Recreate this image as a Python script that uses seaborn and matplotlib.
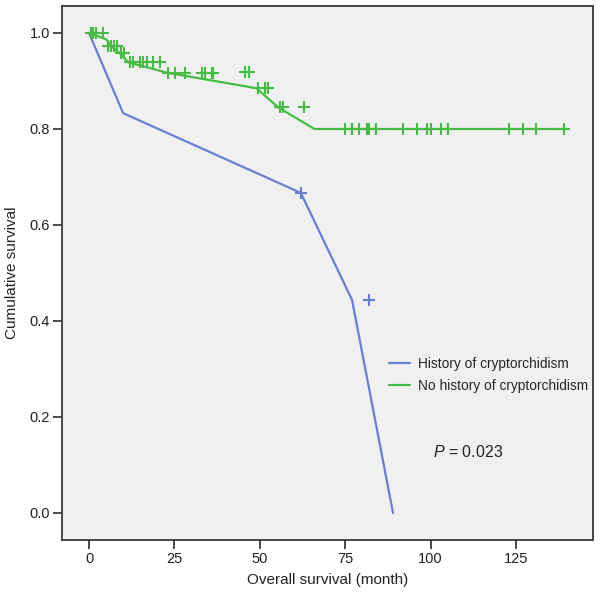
import matplotlib
matplotlib.use("Agg")
import matplotlib.pyplot as plt
import seaborn as sns
import pandas as pd
from matplotlib.lines import Line2D

# ---- data ----
blue_label = "History of cryptorchidism"
green_label = "No history of cryptorchidism"

blue_time = [0, 10, 62, 77, 89]
blue_surv = [1.0, 0.833, 0.667, 0.444, 0.0]
blue_cens_time = [62, 82]
blue_cens_surv = [0.667, 0.444]

green_time = [0, 5, 6.5, 9, 11.5, 23, 49, 55.4, 66, 139.5]
green_surv = [1.0, 0.987, 0.973, 0.958, 0.939, 0.917, 0.885, 0.845, 0.80, 0.80]
green_cens_time = [0.5, 1.3, 2.0, 4.0,
                   5.5, 6.5, 7.3, 8.3,
                   9.5, 10.1,
                   12, 13, 14.9, 15.9, 16.9, 18.8, 20.8,
                   23.2, 25.2, 28.1, 33, 34, 35.9, 36.4,
                   45.8, 46.8,
                   49.5, 51.5, 52.4,
                   56, 56.8, 63,
                   75, 77, 79, 81.3, 82, 84, 92, 96, 99, 100, 103, 105.2, 123, 127, 131, 139]
green_cens_surv = [1.0] * 4 + [0.973] * 4 + [0.958] * 2 + [0.939] * 7 + [0.917] * 7 + \
                  [0.918] * 2 + [0.885] * 3 + [0.845] * 3 + [0.80] * 16

x_ticks = [0, 25, 50, 75, 100, 125]
y_ticks = [0.0, 0.2, 0.4, 0.6, 0.8, 1.0]

# ---- style ----
sns.set_style("white")
plt.rcParams["font.family"] = ["Liberation Sans", "DejaVu Sans"]
plt.rcParams["mathtext.fontset"] = "custom"
plt.rcParams["mathtext.it"] = "Liberation Sans:italic"
plt.rcParams["mathtext.rm"] = "Liberation Sans"

BLUE = "#6a7ed2"
GREEN = "#46bb46"
FRAME = "#3a3a3a"

fig = plt.figure(figsize=(6.0, 6.01), dpi=100)
W, H = 600, 601
ax = fig.add_axes([62 / W, 1 - 540 / H, (593 - 62) / W, (540 - 6) / H])
ax.set_facecolor("#f0f0f0")

line_blue = pd.DataFrame({"t": blue_time, "s": blue_surv})
line_green = pd.DataFrame({"t": green_time, "s": green_surv})
cens_blue = pd.DataFrame({"t": blue_cens_time, "s": blue_cens_surv})
cens_green = pd.DataFrame({"t": green_cens_time, "s": green_cens_surv})

sns.lineplot(data=line_green, x="t", y="s", ax=ax, color=GREEN, lw=1.6,
             sort=False, estimator=None)
sns.lineplot(data=line_blue, x="t", y="s", ax=ax, color=BLUE, lw=1.6,
             sort=False, estimator=None)
sns.scatterplot(data=cens_green, x="t", y="s", ax=ax, marker="+", s=75,
                color=GREEN, linewidth=1.5, zorder=3)
sns.scatterplot(data=cens_blue, x="t", y="s", ax=ax, marker="+", s=75,
                color=BLUE, linewidth=1.5, zorder=3)

x0 = -(89 - 62) / 3.416
x1 = (593 - 89) / 3.416
ax.set_xlim(x0, x1)
ax.set_ylim(-(540 - 513) / 480, 1 + (33 - 6) / 480)

ax.set_xticks(x_ticks)
ax.set_xticklabels([str(v) for v in x_ticks])
ax.set_yticks(y_ticks)
ax.set_yticklabels([f"{v:.1f}" for v in y_ticks])
ax.tick_params(axis="both", direction="out", length=6.5, width=1.3,
               color=FRAME, labelsize=10.5, labelcolor="#222222", pad=2,
               bottom=True, left=True)

for sp in ax.spines.values():
    sp.set_color(FRAME)
    sp.set_linewidth(1.3)

ax.set_xlabel("Overall survival (month)", fontsize=11, color="#222222")
ax.set_ylabel("Cumulative survival", fontsize=11, color="#222222")
ax.xaxis.set_label_coords(0.5, -(573 - 540) / 534)
ax.yaxis.set_label_coords(-(62 - 19) / 531, 0.5)

handles = [Line2D([0], [0], color=BLUE, lw=1.6),
           Line2D([0], [0], color=GREEN, lw=1.6)]
fig.legend(handles, [blue_label, green_label], loc="upper left",
           bbox_to_anchor=(389 / W, 1 - 357 / H), frameon=False,
           fontsize=9.9, handlelength=1.55, handletextpad=0.55,
           borderpad=0, borderaxespad=0, labelspacing=0.6)

fig.text(433 / W, 1 - 452 / H, r"$P$ = 0.023", fontsize=11.5, va="center",
         ha="left", color="#222222")

fig.savefig("out.png", dpi=100, facecolor="white")
